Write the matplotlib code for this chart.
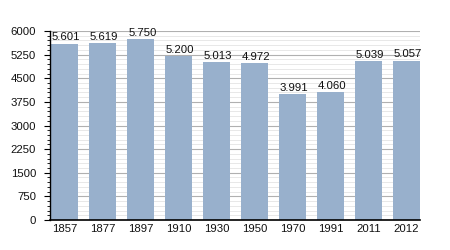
import numpy as np
import matplotlib
matplotlib.use("Agg")
import matplotlib.pyplot as plt
from matplotlib.ticker import MultipleLocator

plt.rcParams["font.family"] = ["Liberation Sans", "DejaVu Sans"]

years = ["1857", "1877", "1897", "1910", "1930", "1950", "1970", "1991", "2011", "2012"]
population = [5601, 5619, 5750, 5200, 5013, 4972, 3991, 4060, 5039, 5057]
labels = ["5.601", "5.619", "5.750", "5.200", "5.013", "4.972", "3.991", "4.060", "5.039", "5.057"]

fig = plt.figure(figsize=(4.5, 2.5), dpi=100)
ax = fig.add_axes([50/450, 30/250, 370/450, 189/250])

x = np.arange(len(years))
ax.bar(x, population, width=0.7, color="#98b0cc", zorder=3)

for xi, v, lab in zip(x, population, labels):
    ax.text(xi + 0.05, v + 40, lab, ha="center", va="bottom", fontsize=8.2, color="#111111", zorder=4)

ax.set_xlim(-0.38, 9.36)
ax.set_ylim(0, 6000)
ax.yaxis.set_major_locator(MultipleLocator(750))
ax.yaxis.set_minor_locator(MultipleLocator(150))
ax.grid(axis="y", which="major", color="#b0b0b0", linewidth=0.8, zorder=1)
ax.grid(axis="y", which="minor", color="#e4e4e4", linewidth=0.6, zorder=0)
ax.set_xticks(x)
ax.set_xticklabels(years)
ax.tick_params(axis="x", length=0, labelsize=8.2, pad=3, labelcolor="#111111")
ax.tick_params(axis="y", which="major", length=4, width=0.8, labelsize=8.2, pad=6, labelcolor="#111111")
ax.tick_params(axis="y", which="minor", length=2, width=0.6)

for s in ["top", "right"]:
    ax.spines[s].set_visible(False)
ax.spines["left"].set_linewidth(1)
ax.spines["bottom"].set_linewidth(1.2)
ax.spines["left"].set_zorder(5)
ax.spines["bottom"].set_zorder(5)

fig.savefig("out.png", dpi=100)
